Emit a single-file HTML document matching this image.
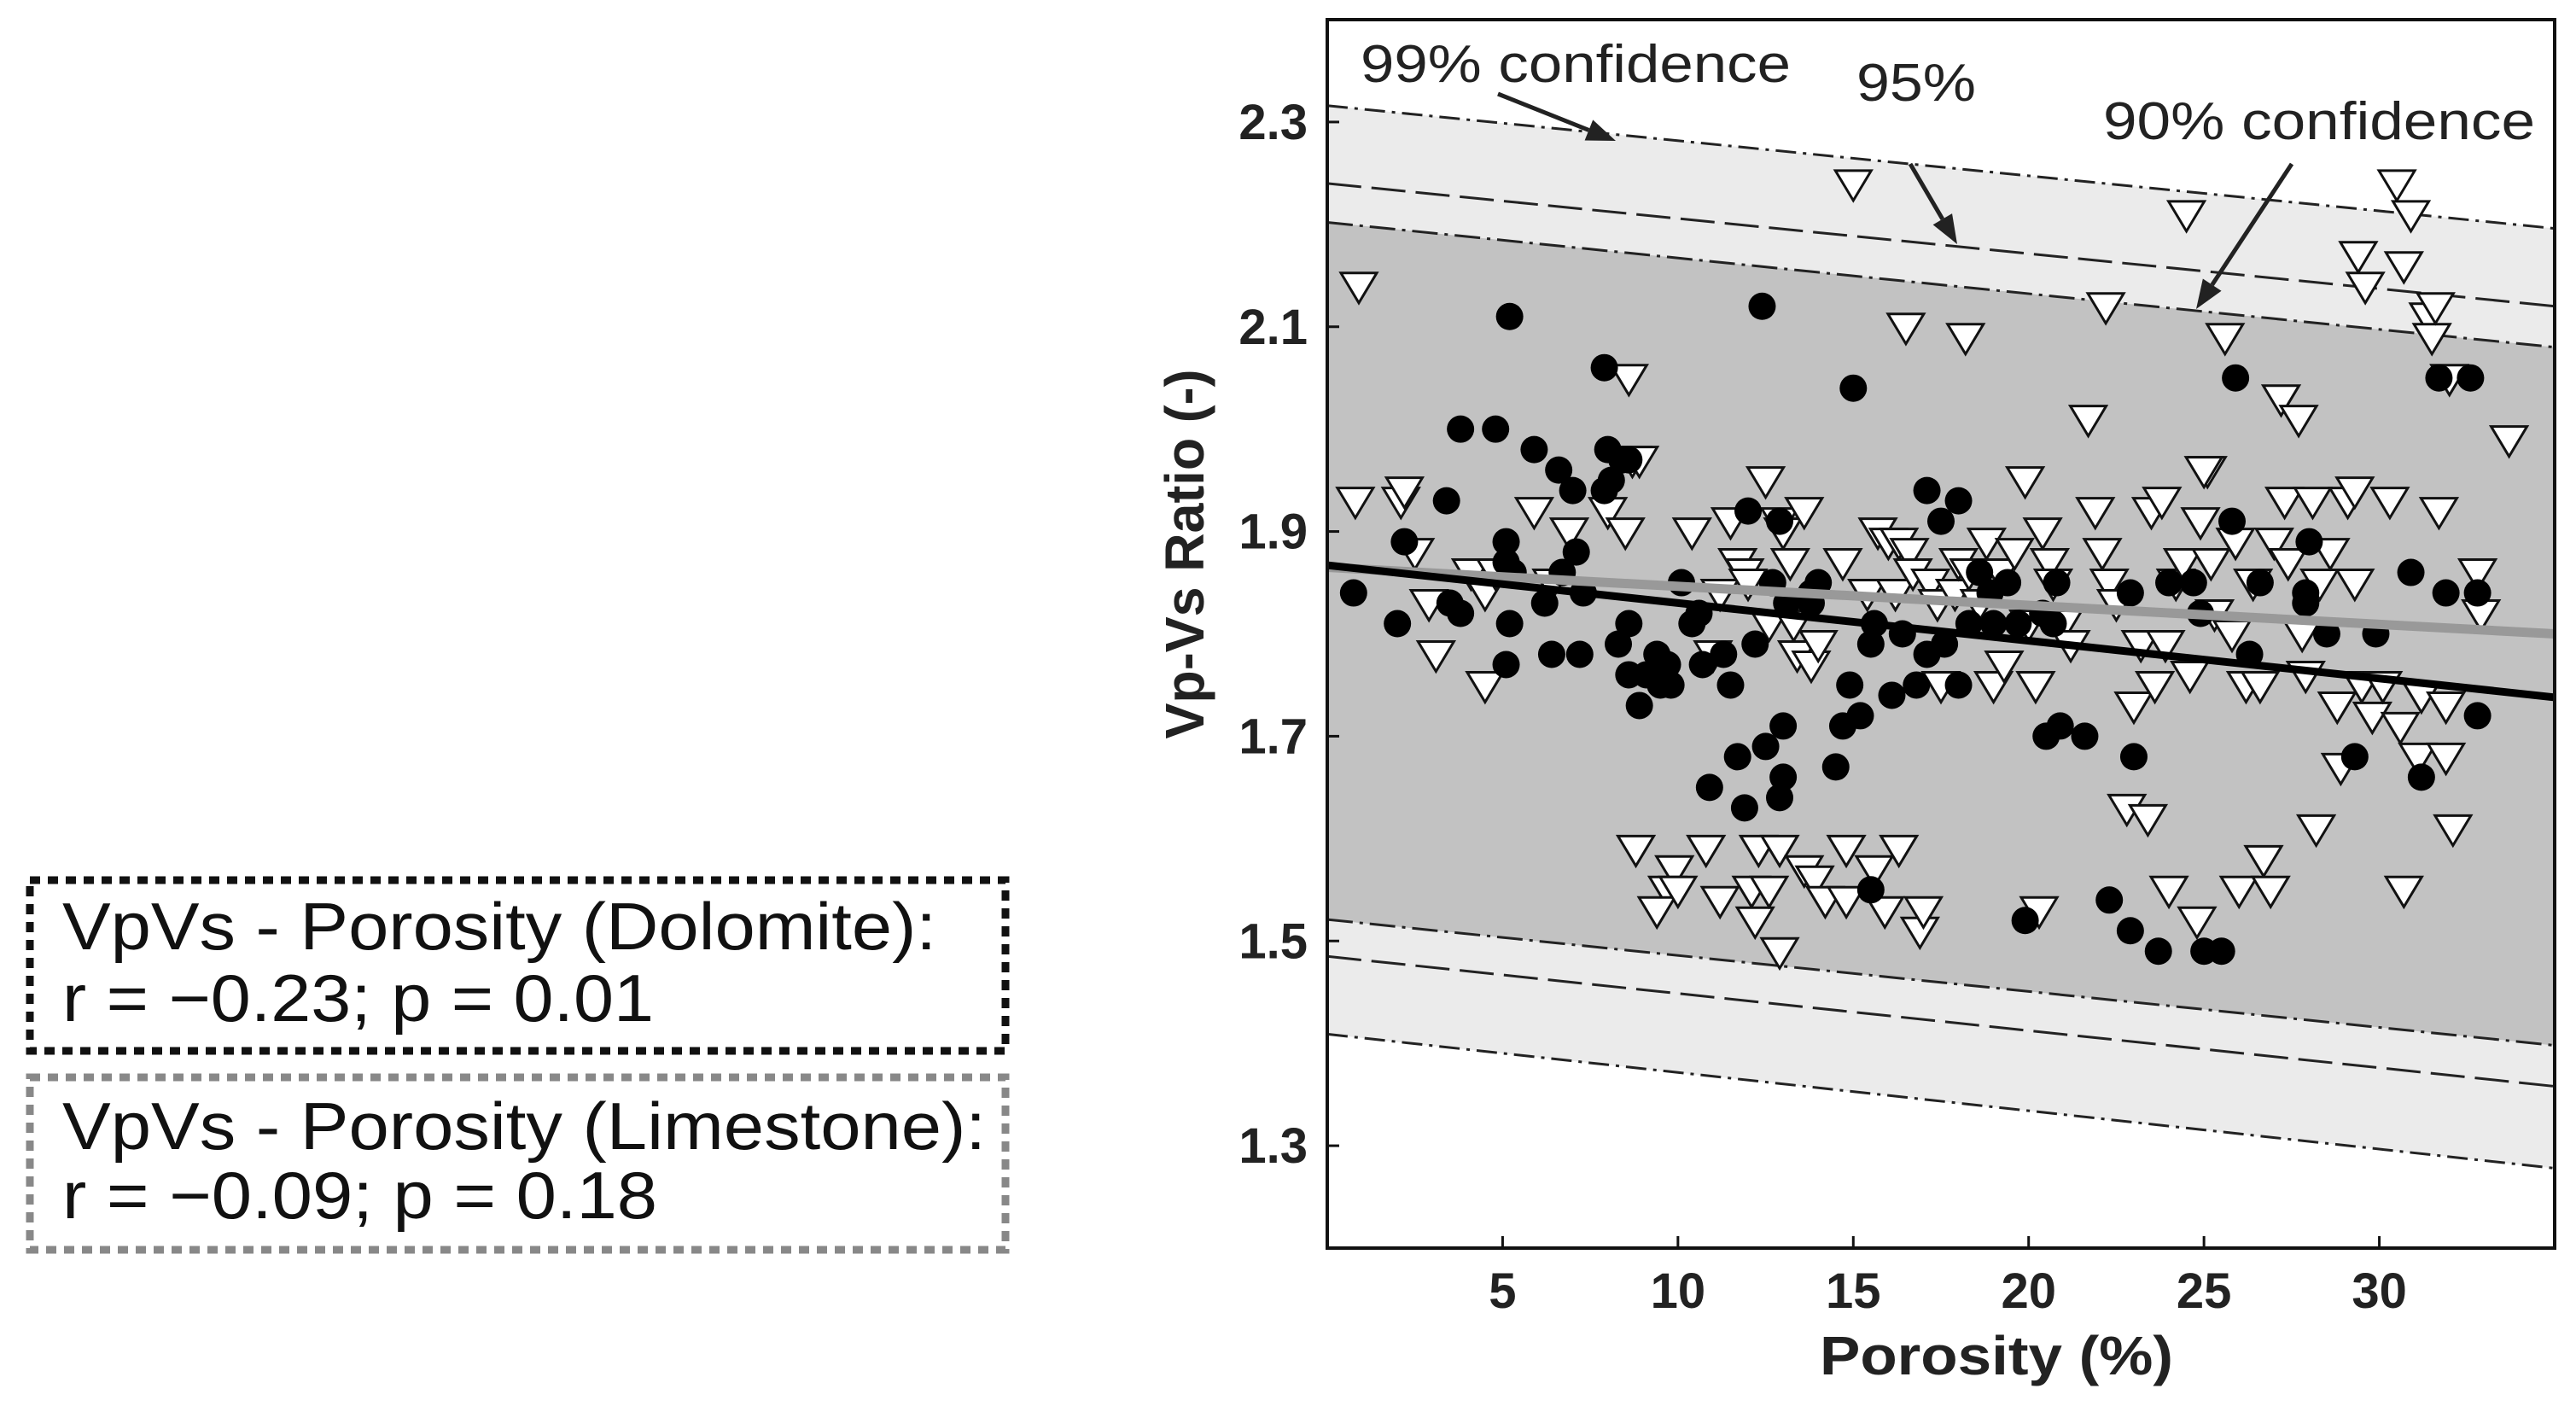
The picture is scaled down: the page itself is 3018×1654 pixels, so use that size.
<!DOCTYPE html>
<html><head><meta charset="utf-8"><style>
html,body{margin:0;padding:0;background:#fff;}
svg{display:block;font-family:"Liberation Sans",Arial,sans-serif;}
</style></head><body>
<svg id="chart" width="3018" height="1654" viewBox="0 0 3018 1654" xmlns="http://www.w3.org/2000/svg">
<defs><clipPath id="pc"><rect x="1555" y="23" width="1438" height="1439"/></clipPath></defs>
<g id="bands" clip-path="url(#pc)"></g>
<g id="marks" clip-path="url(#pc)"></g>
<g id="axes"></g>
<rect x="1555" y="23" width="1438" height="1439" fill="none" stroke="#111" stroke-width="4"/>
<text x="1594" y="96" font-size="62" fill="#222" textLength="504" lengthAdjust="spacingAndGlyphs">99% confidence</text>
<text x="2175" y="118" font-size="62" fill="#222" textLength="140" lengthAdjust="spacingAndGlyphs">95%</text>
<text x="2464" y="163" font-size="62" fill="#222" textLength="506" lengthAdjust="spacingAndGlyphs">90% confidence</text>
<g id="arrows"></g>
<text x="1410" y="649" font-size="64" font-weight="bold" fill="#222" text-anchor="middle" textLength="433" lengthAdjust="spacingAndGlyphs" transform="rotate(-90 1410 649)">Vp-Vs Ratio (-)</text>
<text x="2339" y="1610" font-size="64" font-weight="bold" fill="#222" text-anchor="middle" textLength="414" lengthAdjust="spacingAndGlyphs">Porosity (%)</text>
<g>
<rect x="35" y="1031" width="1143" height="200" fill="none" stroke="#111" stroke-width="9" stroke-dasharray="12,9"/>
<text x="73" y="1112" font-size="78" fill="#111" textLength="1024" lengthAdjust="spacingAndGlyphs">VpVs - Porosity (Dolomite):</text>
<text x="73" y="1196" font-size="78" fill="#111" textLength="693" lengthAdjust="spacingAndGlyphs">r = −0.23; p = 0.01</text></g>
<g>
<rect x="35" y="1262" width="1143" height="202" fill="none" stroke="#888" stroke-width="9" stroke-dasharray="12,9"/>
<text x="73" y="1346" font-size="78" fill="#111" textLength="1082" lengthAdjust="spacingAndGlyphs">VpVs - Porosity (Limestone):</text>
<text x="73" y="1427" font-size="78" fill="#111" textLength="697" lengthAdjust="spacingAndGlyphs">r = −0.09; p = 0.18</text></g>
</svg>
<script>
const xTicks=[5,10,15,20,25,30];
const yTicks=[1.3,1.5,1.7,1.9,2.1,2.3];
const yTickLabels=["1.3","1.5","1.7","1.9","2.1","2.3"];
const bandXs=[0,35];
const up99=[2.316,2.196], up95=[2.24,2.12], up90=[2.202,2.08];
const lo90=[1.521,1.398], lo95=[1.485,1.358], lo99=[1.409,1.278];
const dolFit=[1.867,1.738];
const limFit=[1.865,1.80];
const circX=[0.75,2.0,2.2,3.5,3.4,3.8,3.8,4.8,5.2,5.1,5.1,5.3,5.1,5.2,5.9,6.6,7.0,6.7,6.2,6.4,7.2,7.1,7.3,7.9,7.9,8.0,8.4,8.1,8.6,8.3,8.6,8.9,8.6,9.1,9.4,9.7,9.8,9.5,10.1,10.6,10.4,10.7,10.9,11.3,11.5,11.7,11.9,12.0,12.2,12.4,12.5,12.7,12.9,13.0,13.0,12.9,13.1,13.8,14.0,13.8,14.5,14.7,15.0,14.9,15.2,15.5,15.6,15.5,16.1,16.4,16.8,17.1,17.1,17.5,17.6,18.0,18.0,18.3,18.6,18.9,19.0,19.4,19.7,19.9,20.5,20.7,20.9,20.4,20.8,21.6,22.3,22.9,23.0,22.9,23.7,24.0,24.7,24.9,25.0,25.5,25.8,25.9,26.3,26.6,27.9,27.9,28.0,28.5,29.3,29.9,30.9,31.2,31.9,31.7,32.6,32.8,32.8];
const circY=[1.84,1.81,1.89,1.83,1.93,1.82,2.00,2.00,2.11,1.89,1.87,1.86,1.77,1.81,1.98,1.96,1.94,1.86,1.83,1.78,1.78,1.88,1.84,2.06,1.94,1.98,1.97,1.95,1.97,1.79,1.76,1.73,1.81,1.76,1.78,1.77,1.75,1.75,1.85,1.82,1.81,1.77,1.65,1.78,1.75,1.68,1.63,1.92,1.79,2.12,1.69,1.85,1.91,1.71,1.66,1.64,1.83,1.83,1.85,1.84,1.67,1.71,2.04,1.75,1.72,1.79,1.81,1.55,1.74,1.80,1.75,1.94,1.78,1.91,1.79,1.93,1.75,1.81,1.86,1.84,1.81,1.85,1.81,1.52,1.70,1.81,1.71,1.82,1.85,1.70,1.54,1.51,1.68,1.84,1.49,1.85,1.85,1.82,1.49,1.49,1.91,2.05,1.78,1.85,1.84,1.83,1.89,1.80,1.68,1.80,1.86,1.66,1.84,2.05,2.05,1.72,1.84];
const triX=[0.9,0.8,2.1,2.2,2.5,2.9,3.1,4.1,4.5,4.8,4.5,5.9,6.4,6.9,8.0,8.5,8.7,8.9,8.6,8.8,9.9,9.7,9.4,10.0,10.4,10.8,11.0,11.2,11.2,11.5,11.7,11.9,12.0,12.1,12.2,12.3,12.6,12.5,12.6,12.9,12.9,12.9,13.0,13.2,13.3,13.4,13.6,13.6,13.8,14.0,13.9,14.2,14.7,14.8,14.8,15.0,15.4,15.6,15.7,15.9,16.0,16.2,16.3,16.3,16.5,16.6,16.7,16.9,17.0,17.2,17.4,17.5,17.9,18.0,18.2,18.3,18.6,18.8,19.0,19.2,19.3,19.6,19.9,20.0,20.2,20.3,20.4,20.6,20.7,21.0,21.2,21.7,21.9,22.1,22.2,22.3,22.5,22.8,23.0,23.2,23.4,23.5,23.6,23.8,23.9,24.0,24.2,24.4,24.5,24.6,24.9,25.1,25.2,25.3,25.6,25.8,25.9,26.0,26.2,26.4,26.6,26.7,26.9,27.0,27.2,27.3,27.4,27.7,27.8,27.9,28.1,28.2,28.3,28.6,28.8,28.9,29.1,29.3,29.3,29.5,29.4,29.6,29.8,30.1,30.3,30.5,30.6,30.7,30.9,30.7,31.1,31.2,31.4,31.5,31.6,31.7,31.9,31.9,32.0,32.1,32.8,32.9,33.7,24.8,25.0];
const triY=[2.14,1.93,1.93,1.94,1.88,1.83,1.78,1.86,1.84,1.86,1.75,1.92,1.85,1.90,1.92,1.90,1.97,1.97,2.05,1.59,1.57,1.55,1.53,1.55,1.90,1.59,1.78,1.84,1.54,1.91,1.87,1.86,1.85,1.55,1.52,1.59,1.81,1.95,1.55,1.49,1.59,1.91,1.90,1.87,1.81,1.78,1.92,1.57,1.77,1.79,1.56,1.54,1.87,1.54,1.59,2.24,1.84,1.57,1.90,1.53,1.89,1.84,1.59,1.89,2.10,1.88,1.86,1.51,1.53,1.85,1.83,1.75,1.84,1.87,2.09,1.86,1.83,1.89,1.75,1.86,1.77,1.88,1.95,1.81,1.75,1.53,1.90,1.87,1.85,1.81,1.79,2.01,1.92,1.88,2.12,1.85,1.83,1.63,1.73,1.79,1.62,1.92,1.75,1.93,1.79,1.55,1.85,1.87,2.21,1.76,1.91,1.96,1.87,1.82,2.09,1.80,1.89,1.55,1.75,1.85,1.75,1.58,1.55,1.89,2.03,1.93,1.87,2.01,1.80,1.76,1.93,1.61,1.85,1.88,1.73,1.67,1.93,1.94,1.85,1.75,2.17,2.14,1.72,1.75,1.93,2.24,1.71,2.16,2.21,1.55,1.68,1.74,2.11,2.09,2.12,1.92,1.73,1.68,2.05,1.61,1.86,1.82,1.99,1.52,1.96];

const NS='http://www.w3.org/2000/svg';
const L=1555,R=2993,T=23,B=1462,X0=0,X1=35,Y0=1.2,Y1=2.4;
function sx(v){return L+(v-X0)/(X1-X0)*(R-L);}
function sy(v){return B-(v-Y0)/(Y1-Y0)*(B-T);}
function mk(tag,attrs,parent){const e=document.createElementNS(NS,tag);for(const k in attrs)e.setAttribute(k,attrs[k]);parent.appendChild(e);return e;}
const bands=document.getElementById('bands'),marks=document.getElementById('marks'),axes=document.getElementById('axes'),arrows=document.getElementById('arrows');
function poly(a,b){return `${sx(bandXs[0])},${sy(a[0])} ${sx(bandXs[1])},${sy(a[1])} ${sx(bandXs[1])},${sy(b[1])} ${sx(bandXs[0])},${sy(b[0])}`;}
let p=mk('polygon',{points:poly(up99,lo99),fill:'#ebebeb'},bands);


p=mk('polygon',{points:poly(up90,lo90),fill:'#c2c2c2'},bands);


const lines=[[up99,'24,8,4,8','upper-99-line'],[lo99,'24,8,4,8','lower-99-line'],[up95,'40,12','upper-95-line'],[lo95,'40,12','lower-95-line'],[up90,'30,8,4,8','upper-90-line'],[lo90,'30,8,4,8','lower-90-line']];
lines.forEach(([a,d,n])=>{const l=mk('line',{x1:sx(bandXs[0]),y1:sy(a[0]),x2:sx(bandXs[1]),y2:sy(a[1]),stroke:'#222','stroke-width':3,'stroke-dasharray':d},bands);

});
for(let i=0;i<triX.length;i++){const cx=sx(triX[i]),cy=sy(triY[i]);
const t=mk('polygon',{points:`${cx-21},${cy-15} ${cx+21},${cy-15} ${cx},${cy+20}`,fill:'#fff',stroke:'#111','stroke-width':3},marks);

}
for(let i=0;i<circX.length;i++){const c=mk('circle',{cx:sx(circX[i]),cy:sy(circY[i]),r:16,fill:'#000'},marks);

}
let f=mk('line',{x1:sx(bandXs[0]),y1:sy(limFit[0]),x2:sx(bandXs[1]),y2:sy(limFit[1]),stroke:'#999','stroke-width':11},marks);


f=mk('line',{x1:sx(bandXs[0]),y1:sy(dolFit[0]),x2:sx(bandXs[1]),y2:sy(dolFit[1]),stroke:'#000','stroke-width':9},marks);


[[1755,110,1893,165],[2238,192,2293,286],[2685,192,2573,362]].forEach(a=>{
const [x1,y1,x2,y2]=a;const dx=x2-x1,dy=y2-y1,len=Math.hypot(dx,dy),ux=dx/len,uy=dy/len;
const bx=x2-ux*34,by=y2-uy*34;
const l=mk('line',{x1:x1,y1:y1,x2:bx,y2:by,stroke:'#222','stroke-width':5},arrows);


const h=mk('polygon',{points:`${x2},${y2} ${bx-uy*13},${by+ux*13} ${bx+uy*13},${by-ux*13}`,fill:'#222'},arrows);

});
xTicks.forEach(v=>{const t=mk('text',{x:sx(v),y:1532,'font-size':58,'font-weight':'bold','text-anchor':'middle',fill:'#222'},axes);t.textContent=String(v);


const k=mk('line',{x1:sx(v),y1:B,x2:sx(v),y2:B-14,stroke:'#111','stroke-width':3},axes);

});
yTicks.forEach((v,i)=>{const t=mk('text',{x:1532,y:sy(v)+20,'font-size':58,'font-weight':'bold','text-anchor':'end',fill:'#222'},axes);t.textContent=yTickLabels[i];


const k=mk('line',{x1:L,y1:sy(v),x2:L+14,y2:sy(v),stroke:'#111','stroke-width':3},axes);

});
</script>
</body></html>
